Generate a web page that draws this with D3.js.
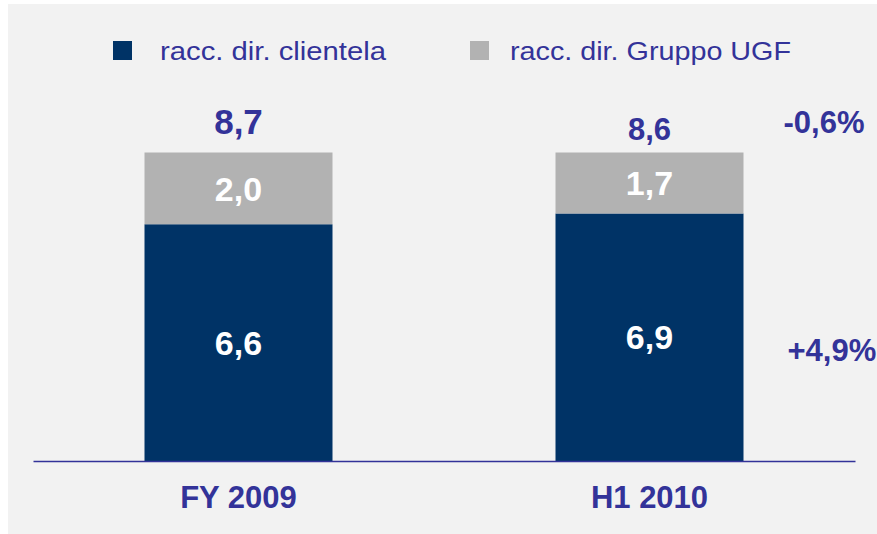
<!DOCTYPE html>
<html>
<head>
<meta charset="utf-8">
<script src="https://cdn.jsdelivr.net/npm/d3@7"></script>
<style>
  body { margin: 0; background: #fff; }
  svg { display: block; font-family: "Liberation Sans", Arial, sans-serif; }
</style>
</head>
<body>
<svg id="chart" width="877" height="534"></svg>
<script>
// data
var periods = ["FY 2009", "H1 2010"];
var clientela = [6.6, 6.9];
var gruppoUGF = [2.0, 1.7];
var totals = ["8,7", "8,6"];
var seriesNames = ["racc. dir. clientela", "racc. dir. Gruppo UGF"];
var changeTotal = "-0,6%";
var changeClientela = "+4,9%";

var colors = ["#003366", "#b2b2b2"];
var textColor = "#333399";

var svg = d3.select("#chart");

// panel background
svg.append("rect")
    .attr("x", 8).attr("y", 4)
    .attr("width", 869).attr("height", 530)
    .attr("fill", "#f2f2f2");

var fmt = function(v) { return d3.format(".1f")(v).replace(".", ","); };

var rows = periods.map(function(p, i) {
  return {period: p, clientela: clientela[i], ugf: gruppoUGF[i], total: totals[i]};
});

var stack = d3.stack().keys(["clientela", "ugf"]);
var layers = stack(rows);

var x = d3.scaleBand()
    .domain(periods)
    .range([33, 855])
    .paddingInner(0.5426)
    .paddingOuter(0.2713);

var y = d3.scaleLinear()
    .domain([0, d3.max(rows, function(d) { return d.clientela + d.ugf; })])
    .range([461, 152.5]);

// bars
var layer = svg.selectAll("g.layer")
    .data(layers)
  .enter().append("g")
    .attr("class", "layer")
    .attr("fill", function(d, i) { return colors[i]; });

layer.selectAll("rect")
    .data(function(d) { return d; })
  .enter().append("rect")
    .attr("x", function(d) { return x(d.data.period); })
    .attr("y", function(d) { return y(d[1]); })
    .attr("width", x.bandwidth())
    .attr("height", function(d) { return y(d[0]) - y(d[1]); });

// segment labels
layer.selectAll("text")
    .data(function(d) { return d; })
  .enter().append("text")
    .attr("x", function(d) { return x(d.data.period) + x.bandwidth() / 2; })
    .attr("y", function(d) { return (y(d[0]) + y(d[1])) / 2; })
    .attr("dy", "0.36em")
    .attr("text-anchor", "middle")
    .attr("fill", "#fff")
    .attr("font-weight", "bold")
    .attr("font-size", 34)
    .text(function(d) { return fmt(d[1] - d[0]); });

// total labels
var totalStyle = [{size: 35, gap: 19}, {size: 31, gap: 13}];
svg.selectAll("text.total")
    .data(rows)
  .enter().append("text")
    .attr("class", "total")
    .attr("x", function(d) { return x(d.period) + x.bandwidth() / 2; })
    .attr("y", function(d, i) { return y(d.clientela + d.ugf) - totalStyle[i].gap; })
    .attr("text-anchor", "middle")
    .attr("fill", textColor)
    .attr("font-weight", "bold")
    .attr("font-size", function(d, i) { return totalStyle[i].size; })
    .text(function(d) { return d.total; });

// axis
var axis = svg.append("g")
    .attr("transform", "translate(0,461)")
    .call(d3.axisBottom(x).tickSize(0).tickSizeOuter(0).tickPadding(25));
axis.select(".domain")
    .attr("stroke", textColor)
    .attr("stroke-width", 1.5);
axis.selectAll(".tick text")
    .attr("fill", textColor)
    .attr("font-family", "'Liberation Sans', Arial, sans-serif")
    .attr("font-weight", "bold")
    .attr("font-size", 31);

// change labels
var last = rows[rows.length - 1];
var xr = x(last.period) + x.bandwidth();
svg.append("text")
    .attr("x", xr + 40)
    .attr("y", y(last.clientela + last.ugf) - 20)
    .attr("fill", textColor)
    .attr("font-weight", "bold")
    .attr("font-size", 31)
    .text(changeTotal);
svg.append("text")
    .attr("x", xr + 44)
    .attr("y", y(last.clientela / 2) + 24)
    .attr("fill", textColor)
    .attr("font-weight", "bold")
    .attr("font-size", 31)
    .text(changeClientela);

// legend
var legendX = [113, 470];
var legendTextDx = [47, 40];
var legendW = [226, 281];
var legend = svg.selectAll("g.legend")
    .data(seriesNames)
  .enter().append("g")
    .attr("class", "legend")
    .attr("transform", function(d, i) { return "translate(" + legendX[i] + ",41)"; });
legend.append("rect")
    .attr("width", 19).attr("height", 19)
    .attr("fill", function(d, i) { return colors[i]; });
legend.append("text")
    .attr("x", function(d, i) { return legendTextDx[i]; })
    .attr("y", 19)
    .attr("fill", textColor)
    .attr("font-size", 25)
    .attr("textLength", function(d, i) { return legendW[i]; })
    .attr("lengthAdjust", "spacingAndGlyphs")
    .text(function(d) { return d; });
</script>
</body>
</html>
